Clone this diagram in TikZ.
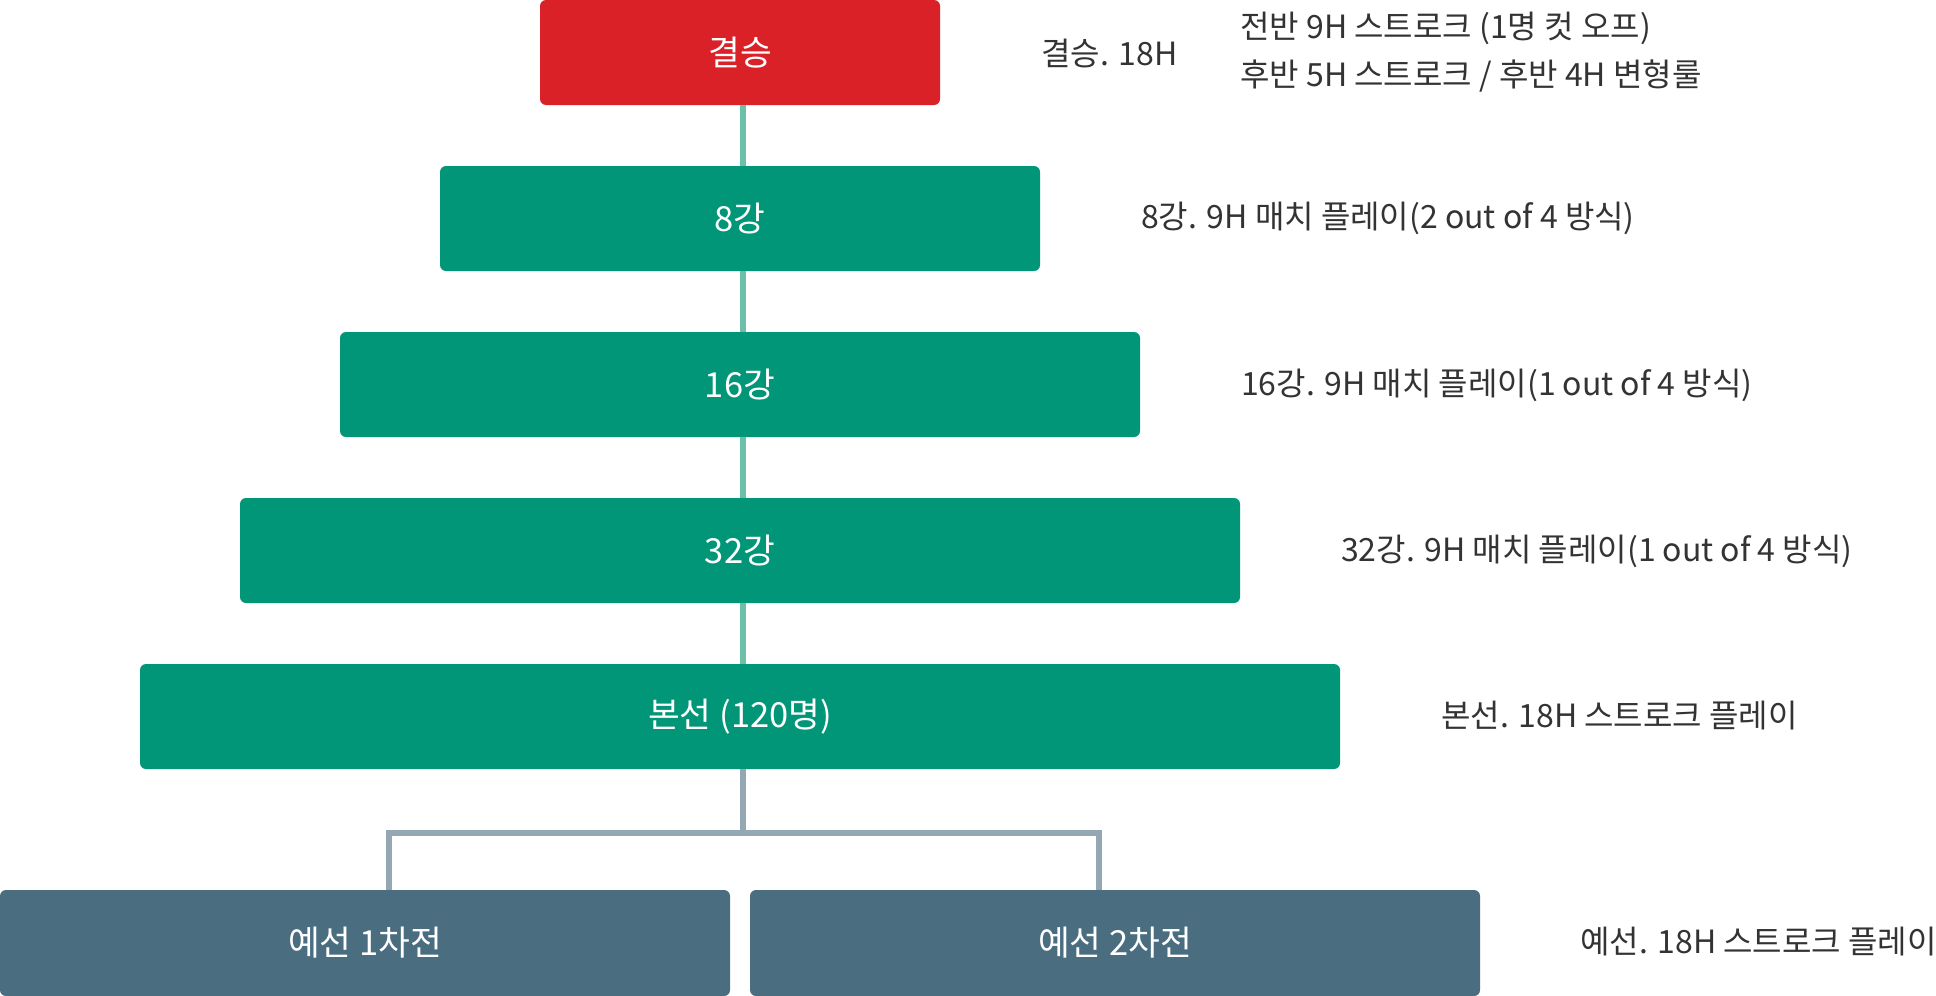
\documentclass[tikz,border=0pt]{standalone}
\usepackage{fontspec}
\setmainfont{Noto Sans CJK KR}
\definecolor{finred}{HTML}{DA2128}
\definecolor{stgreen}{HTML}{009677}
\definecolor{qslate}{HTML}{4A6E80}
\definecolor{lgreen}{HTML}{6CBFA8}
\definecolor{lgrey}{HTML}{93A8B2}
\definecolor{txt}{HTML}{333333}
\tikzset{
  stagebox/.style={draw=none, rounded corners=6pt, inner sep=0pt},
  boxlabel/.style={text=white, font=\fontsize{34.5}{40}\selectfont},
  sidelabel/.style={text=txt, anchor=west, inner sep=0pt, font=\fontsize{32}{38}\selectfont},
  gconn/.style={draw=lgreen, line width=6pt},
  sconn/.style={draw=lgrey, line width=6pt},
}
\begin{document}
\begin{tikzpicture}[x=1pt,y=-1pt]
\useasboundingbox (0,0) rectangle (1936,996);
% boxes
\fill[finred,stagebox] (540,0) rectangle (940,105);
\node[boxlabel] (fin) at (740,52.5) {결승};
\fill[stgreen,stagebox] (440,166) rectangle (1040,271);
\node[boxlabel] (q8) at (740,218.5) {8강};
\fill[stgreen,stagebox] (340,332) rectangle (1140,437);
\node[boxlabel] (q16) at (740,384.5) {16강};
\fill[stgreen,stagebox] (240,498) rectangle (1240,603);
\node[boxlabel] (q32) at (740,550.5) {32강};
\fill[stgreen,stagebox] (140,664) rectangle (1340,769);
\node[boxlabel] (main) at (740,716.5) {본선 (120명)};
\fill[qslate,stagebox] (0,890) rectangle (730,996);
\node[boxlabel] (pre1) at (365,943) {예선 1차전};
\fill[qslate,stagebox] (750,890) rectangle (1480,996);
\node[boxlabel] (pre2) at (1115,943) {예선 2차전};
% connectors
\coordinate (c0) at (743,105);
\coordinate (c1) at (743,166);
\coordinate (c2) at (743,271);
\coordinate (c3) at (743,332);
\coordinate (c4) at (743,437);
\coordinate (c5) at (743,498);
\coordinate (c6) at (743,603);
\coordinate (c7) at (743,664);
\coordinate (c8) at (743,769);
\coordinate (jn) at (743,833);
\coordinate (jl) at (389,833);
\coordinate (jr) at (1099,833);
\coordinate (bl) at (389,890);
\coordinate (br) at (1099,890);
\draw[gconn] (c0) -- (c1);
\draw[gconn] (c2) -- (c3);
\draw[gconn] (c4) -- (c5);
\draw[gconn] (c6) -- (c7);
\draw[sconn] (c8) -- (jn);
\draw[sconn] ([xshift=-3pt]jl) -- ([xshift=3pt]jr);
\draw[sconn] ([yshift=-3pt]jl) -- (bl);
\draw[sconn] ([yshift=-3pt]jr) -- (br);
% side labels
\node[sidelabel] (lfin) at (1041,53) {결승. 18H};
\node[sidelabel] (lfina) at (1240,28) {전반 9H 스트로크 (1명 컷 오프)};
\node[sidelabel] (lfinb) at (1240,76) {후반 5H 스트로크 / 후반 4H 변형룰};
\node[sidelabel] (l8) at (1141,218) {8강. 9H 매치 플레이(2 out of 4 방식)};
\node[sidelabel] (l16) at (1241,385) {16강. 9H 매치 플레이(1 out of 4 방식)};
\node[sidelabel] (l32) at (1341,551) {32강. 9H 매치 플레이(1 out of 4 방식)};
\node[sidelabel] (lmain) at (1441,716) {본선. 18H 스트로크 플레이};
\node[sidelabel] (lpre) at (1580,942) {예선. 18H 스트로크 플레이};
\end{tikzpicture}
\end{document}
